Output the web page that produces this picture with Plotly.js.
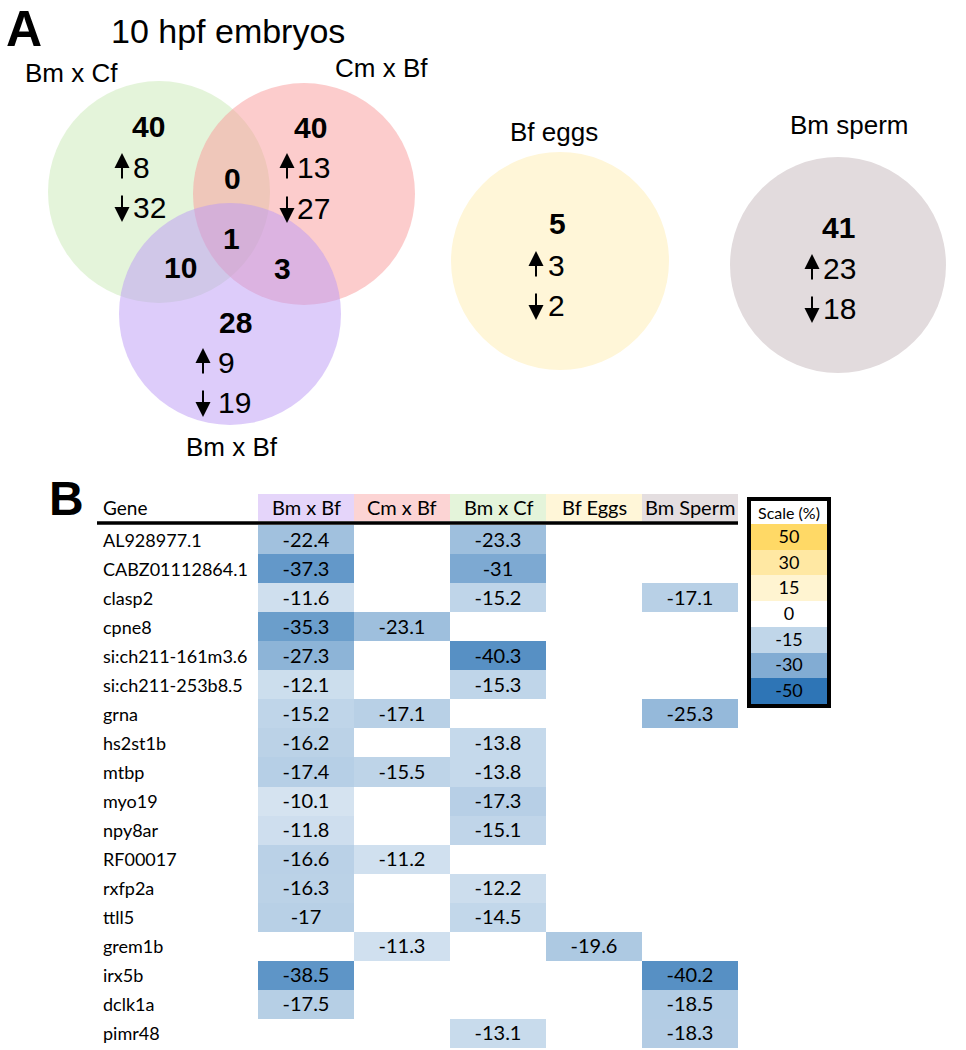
<!DOCTYPE html>
<html><head><meta charset="utf-8">
<script src="https://cdn.plot.ly/plotly-3.0.1.min.js"></script>
<style>html,body{margin:0;padding:0;background:#fff}#chart{width:966px;height:1050px}</style>
</head><body><div id="chart"></div>
<script>
// ---------------- DATA ----------------
const vennSets   = ['Bm x Cf', 'Cm x Bf', 'Bm x Bf', 'Bf eggs', 'Bm sperm'];
const vennTotals = [40, 40, 28, 5, 41];
const vennUp     = [8, 13, 9, 3, 23];
const vennDown   = [32, 27, 19, 2, 18];
const overlapNames  = ['Bm x Cf & Cm x Bf', 'Bm x Cf & Bm x Bf', 'Cm x Bf & Bm x Bf', 'all three'];
const overlapCounts = [0, 10, 3, 1];

const genes = ['AL928977.1', 'CABZ01112864.1', 'clasp2', 'cpne8', 'si:ch211-161m3.6', 'si:ch211-253b8.5',
  'grna', 'hs2st1b', 'mtbp', 'myo19', 'npy8ar', 'RF00017', 'rxfp2a', 'ttll5', 'grem1b', 'irx5b', 'dclk1a', 'pimr48'];
const columns = ['Bm x Bf', 'Cm x Bf', 'Bm x Cf', 'Bf Eggs', 'Bm Sperm'];
const bmXbf   = [-22.4, -37.3, -11.6, -35.3, -27.3, -12.1, -15.2, -16.2, -17.4, -10.1, -11.8, -16.6, -16.3, -17, null, -38.5, -17.5, null];
const cmXbf   = [null, null, null, -23.1, null, null, -17.1, null, -15.5, null, null, -11.2, null, null, -11.3, null, null, null];
const bmXcf   = [-23.3, -31, -15.2, null, -40.3, -15.3, null, -13.8, -13.8, -17.3, -15.1, null, -12.2, -14.5, null, null, null, -13.1];
const bfEggs  = [null, null, null, null, null, null, null, null, null, null, null, null, null, null, -19.6, null, null, null];
const bmSperm = [null, null, -17.1, null, null, null, -25.3, null, null, null, null, null, null, null, null, -40.2, -18.5, -18.3];
const scaleValues = [50, 30, 15, 0, -15, -30, -50];

// ---------------- STYLE / LAYOUT ----------------
const ARIAL = 'Liberation Sans, Arial, sans-serif';
const CAL = 'Lato, Calibri, sans-serif';
const colorscale = [[0, '#2E75B6'], [0.5, '#FFFFFF'], [1, '#FFD966']];

const vennGeom = [
  {cx:159, cy:192, r:111, fill:'rgba(201,233,181,0.5)', label:[71,73],   total:[148,126], ax:122, up:167, dn:207, nx:131},
  {cx:304, cy:194, r:111, fill:'rgba(249,153,153,0.5)', label:[381,68],  total:[310,127], ax:287, up:167, dn:208, nx:295},
  {cx:230, cy:314, r:111, fill:'rgba(187,153,245,0.5)', label:[232,447], total:[235,322], ax:203, up:362, dn:402, nx:216},
  {cx:560, cy:261, r:109, fill:'rgb(255,246,216)',      label:[554,132], total:[557,223], ax:536, up:265, dn:305, nx:546},
  {cx:838, cy:265, r:108, fill:'rgb(226,219,221)',      label:[849,125], total:[838,227], ax:812, up:268, dn:308, nx:821}
];
const overlapPos = [[232,178],[180,267],[282,268],[231,238]];
const headerFills = ['rgb(229,213,250)', 'rgb(252,212,212)', 'rgb(228,244,218)', 'rgb(255,246,216)', 'rgb(228,222,224)'];

const shapes = [];
const annotations = [];

// Venn circles
vennGeom.forEach(g => {
  shapes.push({type:'circle', xref:'x', yref:'y', x0:g.cx-g.r, x1:g.cx+g.r, y0:g.cy-g.r, y1:g.cy+g.r,
    fillcolor:g.fill, line:{width:0}, layer:'below'});
});

function txt(x, y, text, size, opts) {
  return Object.assign({xref:'x', yref:'y', x:x, y:y, text:text, showarrow:false,
    font:{family:ARIAL, size:size, color:'#000'}, xanchor:'center', yanchor:'middle'}, opts || {});
}
function arrow(x, yTip, yTail) {
  return {xref:'x', yref:'y', axref:'x', ayref:'y', x:x, y:yTip, ax:x, ay:yTail, text:'',
    showarrow:true, arrowhead:2, arrowsize:1.5, arrowwidth:2, arrowcolor:'#000', standoff:0, startstandoff:0};
}

annotations.push(txt(24, 29, '<b>A</b>', 50, {borderpad:0}));
annotations.push(txt(228, 31, '10 hpf embryos', 34));
vennSets.forEach((name, i) => {
  const g = vennGeom[i];
  annotations.push(txt(g.label[0], g.label[1], name, 26));
  annotations.push(txt(g.total[0], g.total[1], '<b>' + vennTotals[i] + '</b>', 30));
  annotations.push(arrow(g.ax, g.up - 14, g.up + 13));
  annotations.push(txt(g.nx, g.up, String(vennUp[i]), 30, {xanchor:'left'}));
  annotations.push(arrow(g.ax, g.dn + 15, g.dn - 13));
  annotations.push(txt(g.nx, g.dn, String(vennDown[i]), 30, {xanchor:'left'}));
});
overlapCounts.forEach((c, i) => {
  annotations.push(txt(overlapPos[i][0], overlapPos[i][1], '<b>' + c + '</b>', 30));
});

// Panel B
annotations.push(txt(66, 498, '<b>B</b>', 48));
annotations.push(txt(101, 507, 'Gene', 19, {xanchor:'left', font:{family:CAL, size:19, color:'#000'}}));
columns.forEach((c, j) => {
  shapes.push({type:'rect', xref:'x2', yref:'y', x0:j-0.5, x1:j+0.5, y0:494, y1:521,
    fillcolor:headerFills[j], line:{width:0}, layer:'below'});
  annotations.push({xref:'x2', yref:'y', x:c, y:507, text:c, showarrow:false,
    font:{family:CAL, size:20, color:'#000'}, xanchor:'center', yanchor:'middle'});
});
shapes.push({type:'line', xref:'x', yref:'y', x0:97, x1:738, y0:523, y1:523, line:{color:'#000', width:3.5}});
genes.forEach(g => {
  annotations.push({xref:'x', yref:'y2', x:101, y:g, text:g, showarrow:false,
    font:{family:CAL, size:18, color:'#000'}, xanchor:'left', yanchor:'middle'});
});

// heatmap matrix
const colsData = [bmXbf, cmXbf, bmXcf, bfEggs, bmSperm];
const z = genes.map((g, i) => colsData.map(col => col[i]));
const ztext = z.map(row => row.map(v => v === null ? '' : String(v)));

// legend
shapes.push({type:'rect', xref:'x', yref:'y', x0:749, x1:829, y0:499, y1:706, line:{color:'#000', width:4}, fillcolor:'rgba(0,0,0,0)'});
annotations.push(txt(789, 512, 'Scale (%)', 16, {font:{family:CAL, size:16, color:'#000'}}));

const data = [
  {type:'scatter', x:[], y:[], xaxis:'x', yaxis:'y', hoverinfo:'skip', showlegend:false},
  {type:'heatmap', x:columns, y:genes, z:z, text:ztext, texttemplate:'%{text}',
   textfont:{family:CAL, size:20, color:'#000'}, colorscale:colorscale, zmin:-50, zmax:50,
   showscale:false, xaxis:'x2', yaxis:'y2', hoverinfo:'skip', xgap:0, ygap:0},
  {type:'heatmap', x:['Scale'], y:scaleValues.map(String), z:scaleValues.map(v => [v]),
   text:scaleValues.map(v => [String(v)]), texttemplate:'%{text}',
   textfont:{family:CAL, size:18, color:'#000'}, colorscale:colorscale, zmin:-50, zmax:50,
   showscale:false, xaxis:'x3', yaxis:'y3', hoverinfo:'skip'}
];

const W = 966, H = 1050;
const hidden = {visible:false, showgrid:false, zeroline:false, fixedrange:true};
const layout = {
  width:W, height:H, margin:{l:0, r:0, t:0, b:0, pad:0},
  paper_bgcolor:'#fff', plot_bgcolor:'rgba(0,0,0,0)', showlegend:false,
  xaxis:Object.assign({domain:[0,1], range:[0,W], anchor:'y'}, hidden),
  yaxis:Object.assign({domain:[0,1], range:[H,0], anchor:'x'}, hidden),
  xaxis2:Object.assign({domain:[258/W, 738/W], anchor:'y2', type:'category'}, hidden),
  yaxis2:Object.assign({domain:[(H-1048)/H, (H-525)/H], anchor:'x2', type:'category', autorange:'reversed'}, hidden),
  xaxis3:Object.assign({domain:[751/W, 827/W], anchor:'y3', type:'category'}, hidden),
  yaxis3:Object.assign({domain:[(H-704)/H, (H-524)/H], anchor:'x3', type:'category', autorange:'reversed'}, hidden),
  shapes:shapes, annotations:annotations
};
Plotly.newPlot('chart', data, layout, {displayModeBar:false, staticPlot:true});
</script>
</body></html>
